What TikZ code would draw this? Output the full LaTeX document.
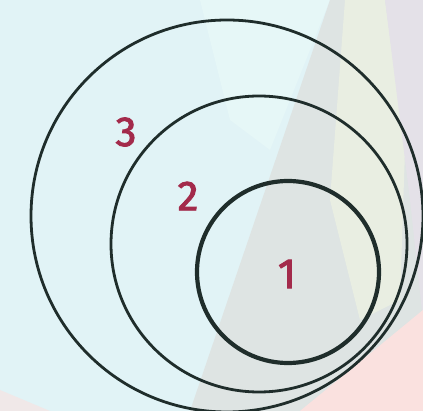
\documentclass[tikz,border=0pt]{standalone}
\usepackage{fontspec}
\setmainfont{Fira Sans}
\newfontfamily\numfont{Fira Sans}[FakeBold=2.2]
\definecolor{bgcyan}{HTML}{E1F3F6}
\definecolor{bglight}{HTML}{E6F7F7}
\definecolor{bggray}{HTML}{DEE4E3}
\definecolor{bgyellow}{HTML}{E9EEE2}
\definecolor{bglav}{HTML}{E4E1E8}
\definecolor{bgpink}{HTML}{FAE1DF}
\definecolor{ringcol}{HTML}{1F2D2B}
\definecolor{numcol}{HTML}{A32A4B}
\begin{document}
\begin{tikzpicture}[x=1pt,y=-1pt,
  ring/.style={circle, draw=ringcol, inner sep=0pt, fill=none},
  num/.style={text=numcol, font=\numfont\fontsize{42}{42}\selectfont, inner sep=0pt}]
\useasboundingbox (0,0) rectangle (423,411);
\clip (0,0) rectangle (423,411);
% background
\fill[bgcyan] (0,0) rectangle (423,411);
\fill[bglight] (200,0) -- (330,0) -- (270,150) -- (230,120) -- cycle;
\fill[bggray] (330,0) -- (423,0) -- (423,411) -- (190,411) -- cycle;
\fill[bgyellow] (345,0) -- (385,0) -- (405,150) -- (400,300) -- (360,320) -- (330,200) -- cycle;
\fill[bglav] (385,0) -- (423,0) -- (423,320) -- (410,200) -- cycle;
\fill[bgpink] (300,411) -- (350,370) -- (423,310) -- (423,411) -- cycle;
\fill[bgpink!60!bgcyan] (0,390) -- (50,411) -- (0,411) -- cycle;
% rings
\node[ring, line width=2.8pt, minimum size=392pt] (outer) at (227,216) {};
\node[ring, line width=2.8pt, minimum size=296pt] (middle) at (259,244) {};
\node[ring, line width=4.2pt, minimum size=182pt] (inner) at (288,272) {};
% labels
\node[num] (n3) at (126,132) {3};
\node[num] (n2) at (188,196) {2};
\node[num] (n1) at (287,274) {1};
\end{tikzpicture}
\end{document}
